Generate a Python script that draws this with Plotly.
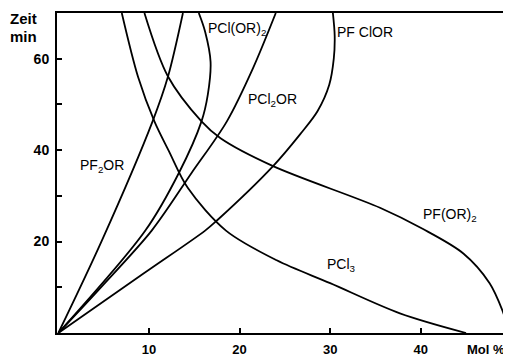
import plotly.graph_objects as go

# Time (min) and mol-% for each species
pcl3_t = [0, 4.3, 10.9, 15.9, 22.4, 31.7, 39.8, 46.3, 56.0, 70]
pcl3_x = [45.0, 37.7, 30.0, 24.1, 18.5, 14.3, 12.2, 10.6, 8.8, 7.0]

pfor2_t = [0, 5, 10.9, 17.4, 22.8, 27.4, 36.5, 42.6, 46.3, 56.1, 70]
pfor2_x = [49.8, 49.0, 47.6, 44.7, 40.2, 35.5, 23.7, 17.9, 15.8, 12.1, 9.5]

pf2or_t = [0, 20.2, 46.3, 56.1, 70]
pf2or_x = [0, 4.8, 10.4, 12.1, 13.75]

pcl2or_t = [0, 10, 22.4, 35, 46.3, 58, 70]
pcl2or_x = [0, 4.7, 10.3, 14.7, 18.6, 21.5, 24.0]

pclor2_t = [0, 22.4, 35, 46.3, 52.2, 59.3, 65.9, 70]
pclor2_x = [0, 9.6, 13.3, 15.8, 16.5, 16.8, 16.2, 15.5]

pfclor_t = [0, 13, 22.4, 24.6, 36.5, 43.5, 48.5, 54.3, 60, 65, 70]
pfclor_x = [0, 9.4, 16.2, 17.5, 23.7, 26.7, 28.6, 29.9, 30.4, 30.5, 30.3]

x_ticks = [10, 20, 30, 40]
x_ticktext = ["10", "20", "30", "40"]
y_ticks = [20, 40, 60]
y_ticktext = ["20", "40", "60"]

FONT = "Liberation Sans"

fig = go.Figure()
for xs, ts in [(pcl3_x, pcl3_t), (pfor2_x, pfor2_t), (pf2or_x, pf2or_t),
               (pcl2or_x, pcl2or_t), (pclor2_x, pclor2_t), (pfclor_x, pfclor_t)]:
    fig.add_trace(go.Scatter(x=xs, y=ts, mode="lines",
                             line=dict(color="black", width=1.8, shape="spline", smoothing=0.9),
                             showlegend=False, hoverinfo="skip"))

labels = [
    (4.8, 36.5, "PF<sub>2</sub>OR"),
    (19.7, 66.5, "PCl(OR)<sub>2</sub>"),
    (23.6, 51.0, "PCl<sub>2</sub>OR"),
    (33.85, 65.8, "PF ClOR"),
    (43.2, 25.8, "PF(OR)<sub>2</sub>"),
    (31.3, 14.9, "PCl<sub>3</sub>"),
]
for x, y, txt in labels:
    fig.add_annotation(x=x, y=y, xref="x", yref="y", text=txt, showarrow=False,
                       font=dict(family=FONT, size=14, color="black"))

fig.add_annotation(x=-0.108, y=0.984, xref="paper", yref="paper", text="<b>Zeit</b>",
                   showarrow=False, xanchor="left", yanchor="middle",
                   font=dict(family=FONT, size=15, color="black"))
fig.add_annotation(x=-0.108, y=0.925, xref="paper", yref="paper", text="<b>min</b>",
                   showarrow=False, xanchor="left", yanchor="middle",
                   font=dict(family=FONT, size=15, color="black"))
fig.add_annotation(x=0.993, y=-0.053, xref="paper", yref="paper", text="<b>Mol %</b>",
                   showarrow=False, xanchor="right", yanchor="middle",
                   font=dict(family=FONT, size=13, color="black"))

tick_style = dict(ticks="inside", ticklen=5, tickwidth=1.5, tickcolor="black")
fig.update_xaxes(range=[-0.15, 49.85], showline=True, linecolor="black", linewidth=2,
                 mirror=True, tickvals=x_ticks, ticktext=x_ticktext, showgrid=False,
                 zeroline=False, ticklabelstandoff=3, automargin=False, **tick_style,
                 tickfont=dict(family=FONT, size=13, color="black", weight="bold"))
fig.update_yaxes(range=[0, 70], showline=True, linecolor="black", linewidth=2,
                 mirror=True, tickvals=y_ticks, ticktext=y_ticktext, showgrid=False,
                 zeroline=False, ticklabelstandoff=3, automargin=False, **tick_style,
                 minor=dict(dtick=10, tick0=0, showgrid=False, **tick_style),
                 tickfont=dict(family=FONT, size=14, color="black", weight="bold"))

# page body adds an 8px offset; size the figure so the axes land where the reference has them
fig.update_layout(width=503, height=358, margin=dict(l=49, r=1, t=5, b=33),
                  paper_bgcolor="white", plot_bgcolor="white")
fig.write_html("out.html")
